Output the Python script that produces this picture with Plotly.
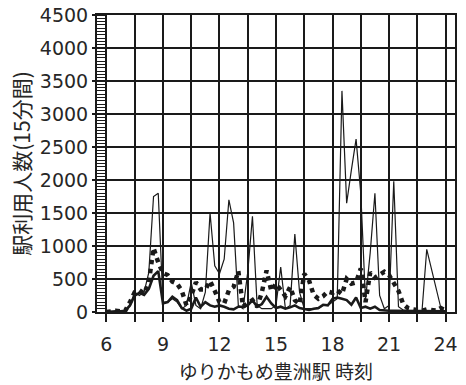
import plotly.graph_objects as go

# 15-minute time steps from 6:00 to 24:00
hours = [6 + i * 0.25 for i in range(73)]

# thin solid line
series_thin = [
    0, 0, 0, 0,            # 6
    10, 100, 300, 250,     # 7
    300, 600, 1750, 1800,  # 8
    150, 150, 200, 150,    # 9
    50, 100, 450, 100,     # 10
    50, 300, 1500, 700,    # 11
    580, 800, 1700, 1350,  # 12
    100, 50, 600, 1450,    # 13
    100, 50, 50, 50,       # 14
    100, 680, 50, 100,     # 15
    1180, 300, 50, 50,     # 16
    50, 50, 100, 100,      # 17
    150, 200, 3350, 1650,  # 18
    2150, 2620, 1800, 180, # 19
    900, 1800, 250, 50,    # 20
    100, 1980, 80, 30,     # 21
    20, 20, 20, 20,        # 22
    950, 650, 320, 60,     # 23
    0,                     # 24
]

# thick dotted line
series_dotted = [
    0, 10, 20, 10,         # 6
    20, 150, 300, 330,     # 7
    280, 450, 970, 750,    # 8
    590, 560, 460, 430,    # 9
    320, 100, 250, 450,    # 10
    340, 340, 470, 320,    # 11
    150, 130, 330, 380,    # 12
    620, 80, 130, 180,     # 13
    80, 300, 630, 320,     # 14
    430, 330, 240, 380,    # 15
    180, 120, 580, 480,    # 16
    260, 200, 240, 310,    # 17
    290, 330, 270, 500,    # 18
    430, 450, 660, 150,    # 19
    600, 520, 560, 610,    # 20
    560, 440, 320, 120,    # 21
    60, 40, 30, 20,        # 22
    40, 30, 20, 60,        # 23
    20,                    # 24
]

# thick solid line
series_thick = [
    0, 10, 10, 10,         # 6
    20, 100, 250, 290,     # 7
    260, 350, 550, 620,    # 8
    130, 150, 230, 180,    # 9
    60, 20, 50, 220,       # 10
    80, 150, 100, 80,      # 11
    100, 80, 50, 40,       # 12
    80, 80, 100, 180,      # 13
    80, 120, 230, 130,     # 14
    60, 80, 50, 70,        # 15
    100, 60, 50, 30,       # 16
    50, 60, 110, 100,      # 17
    200, 220, 200, 180,    # 18
    110, 220, 60, 80,      # 19
    50, 80, 30, 20,        # 20
    20, 20, 20, 15,        # 21
    15, 10, 10, 10,        # 22
    10, 10, 10, 10,        # 23
    10,                    # 24
]

x_tickvals = [6, 7.5, 9, 10.5, 12, 13.5, 15, 16.5, 18, 19.5, 21, 22.5, 24]
x_ticktext = ["6", "", "9", "", "12", "", "15", "", "18", "", "21", "", "24"]

x_title = "ゆりかもめ豊洲駅 時刻"
y_title = "駅利用人数(15分間)"

INK = "#1a1a1a"
TXT = "#262626"

fig = go.Figure()
fig.add_trace(go.Scatter(x=hours, y=series_thick, mode="lines",
                         line=dict(color=INK, width=2.6)))
fig.add_trace(go.Scatter(x=hours, y=series_dotted, mode="lines",
                         line=dict(color=INK, width=4.5, dash="dot")))
fig.add_trace(go.Scatter(x=hours, y=series_thin, mode="lines",
                         line=dict(color=INK, width=1.2)))

fig.update_layout(
    width=466, height=385,
    margin=dict(l=97, r=11, t=15, b=73, autoexpand=False),
    plot_bgcolor="white", paper_bgcolor="white",
    showlegend=False,
)

fig.update_xaxes(
    range=[5.5, 24.5], automargin=False,
    tickmode="array", tickvals=x_tickvals, ticktext=x_ticktext,
    ticks="outside", ticklen=8, tickwidth=1.5, tickcolor=INK,
    ticklabelstandoff=6,
    showgrid=True, gridcolor=INK, gridwidth=1.5,
    showline=True, linecolor=INK, linewidth=2, mirror=True,
    zeroline=False,
    tickfont=dict(family="DejaVu Sans", size=19, color=TXT),
    title=dict(text=x_title, font=dict(family="Noto Sans CJK JP", size=19, color=TXT), standoff=12),
)

fig.update_yaxes(
    range=[0, 4500], dtick=500, automargin=False,
    ticks="outside", ticklen=3, tickwidth=1.5, tickcolor=INK,
    minor=dict(dtick=50, ticks="inside", ticklen=10, tickcolor=INK, tickwidth=1, showgrid=False),
    showgrid=True, gridcolor=INK, gridwidth=1.5,
    showline=True, linecolor=INK, linewidth=2, mirror=True,
    zeroline=False,
    tickfont=dict(family="DejaVu Sans", size=19, color=TXT),
    title=dict(text=y_title, font=dict(family="Noto Sans CJK JP", size=21, color=TXT), standoff=3),
)

fig.write_html("out.html")
